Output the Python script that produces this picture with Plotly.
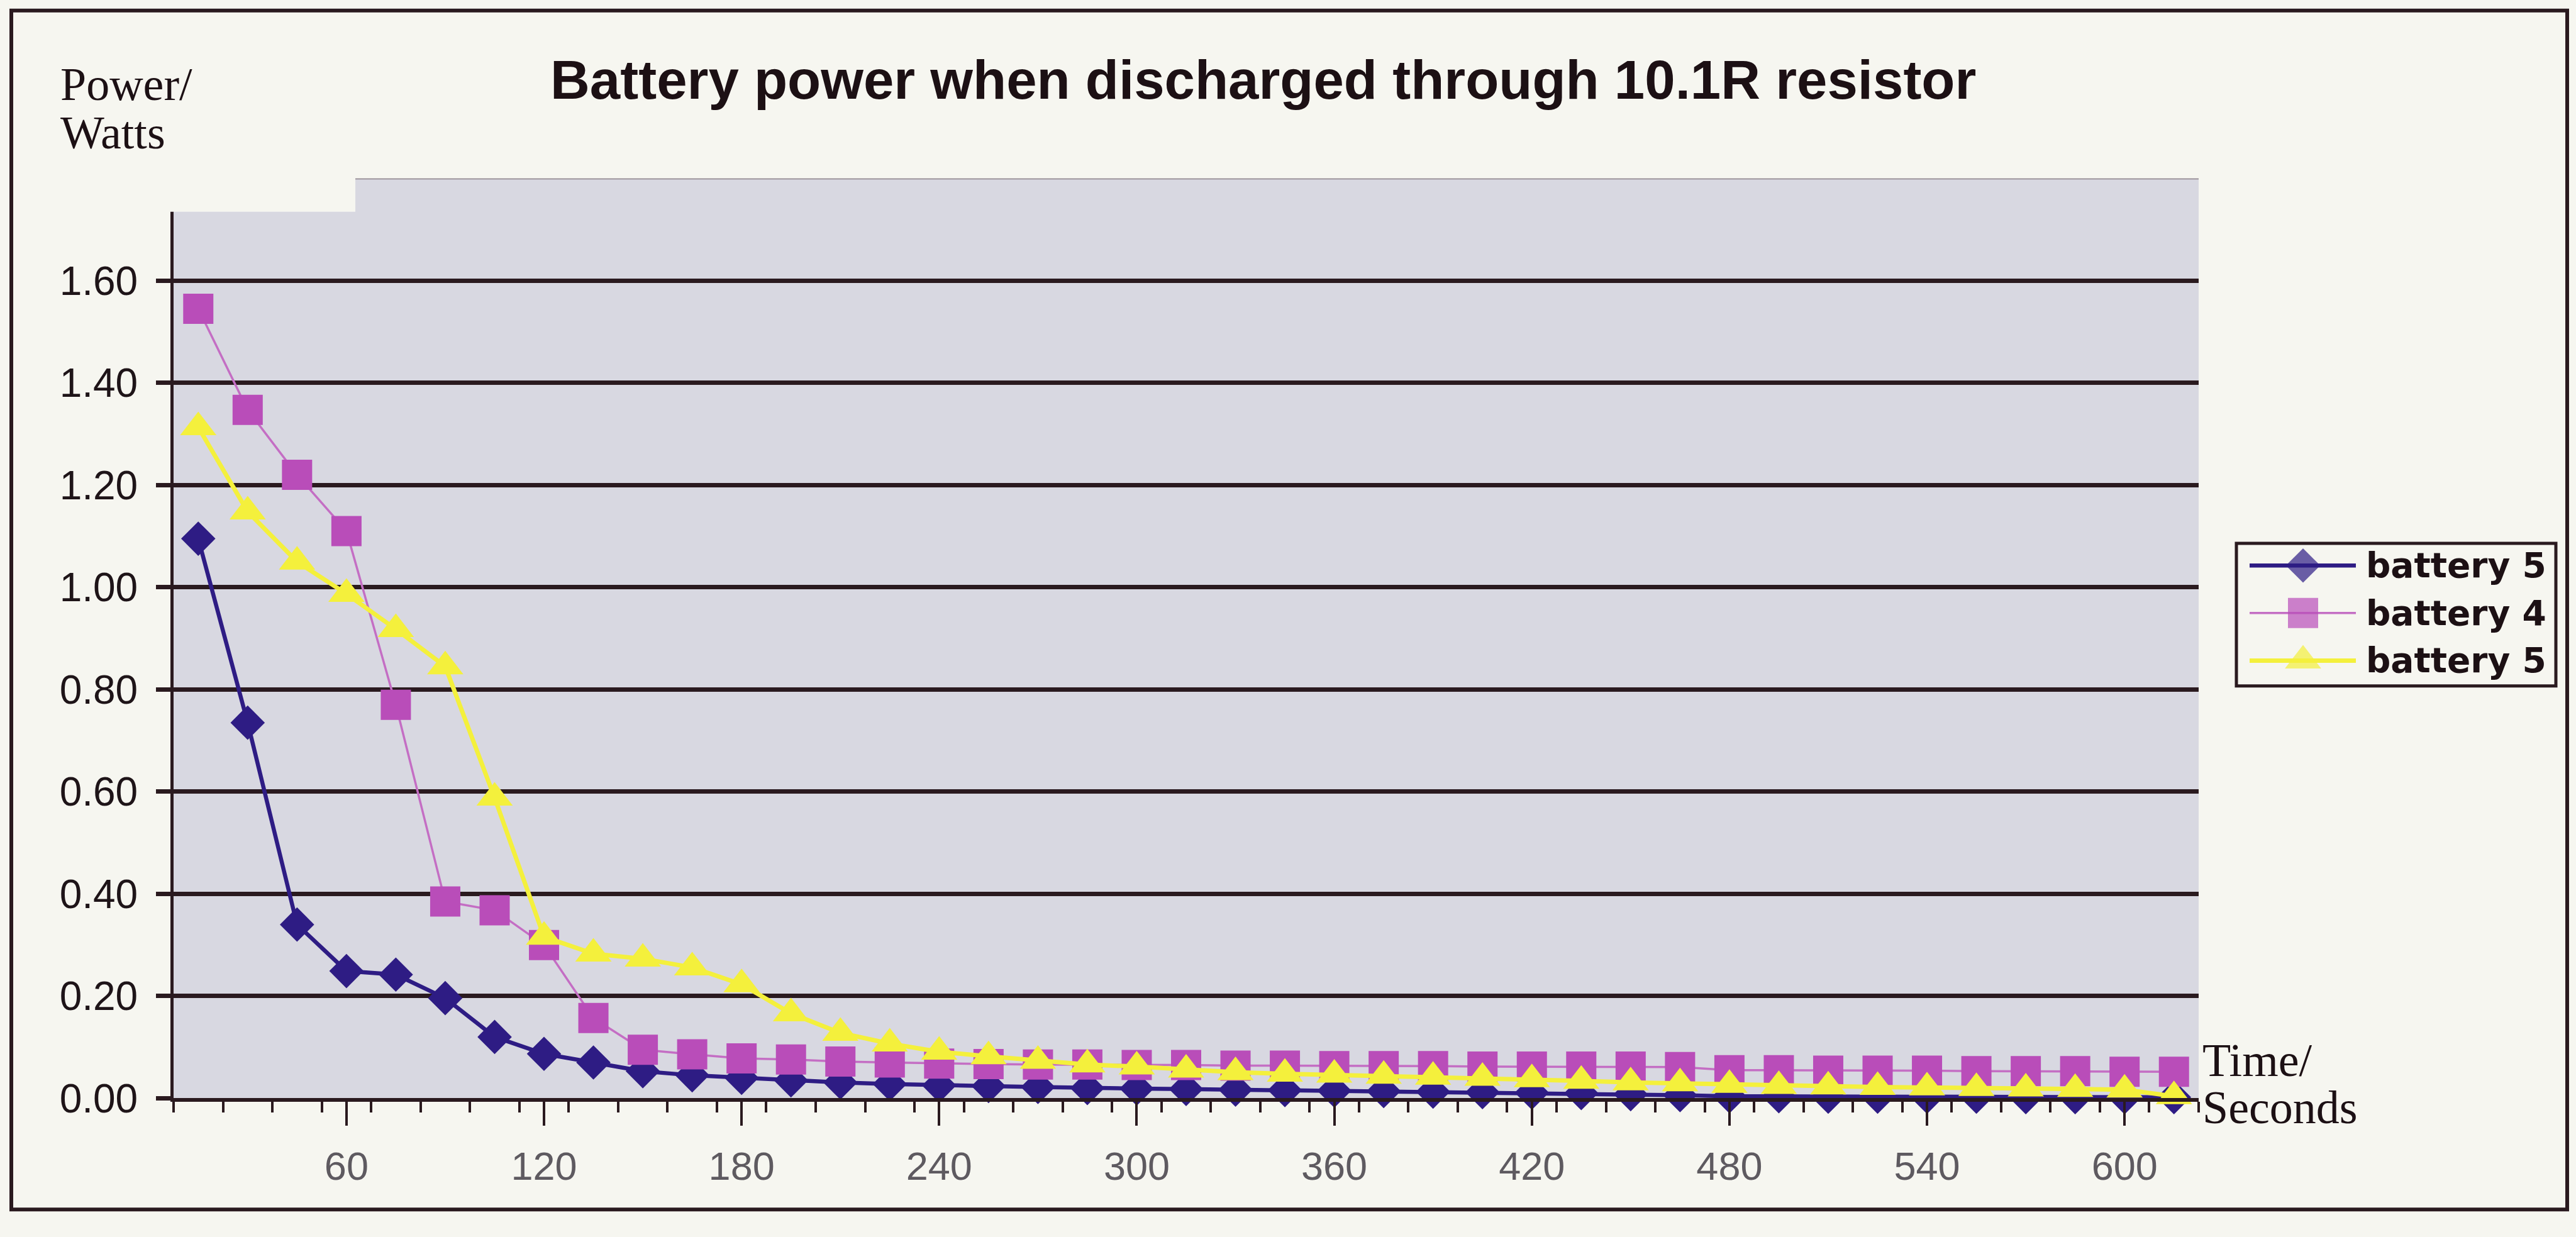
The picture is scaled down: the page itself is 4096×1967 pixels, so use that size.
import plotly.graph_objects as go

# ---------------------------------------------------------------- data
time_s = [15, 30, 45, 60, 75, 90, 105, 120, 135, 150,
          165, 180, 195, 210, 225, 240, 255, 270, 285, 300,
          315, 330, 345, 360, 375, 390, 405, 420, 435, 450,
          465, 480, 495, 510, 525, 540, 555, 570, 585, 600, 615]

battery5_run1 = [1.095, 0.735, 0.340, 0.249, 0.242, 0.196, 0.120, 0.087, 0.070, 0.053,
                 0.045, 0.040, 0.035, 0.031, 0.028, 0.025, 0.024, 0.022, 0.020, 0.019,
                 0.018, 0.017, 0.016, 0.015, 0.014, 0.013, 0.012, 0.011, 0.010, 0.008,
                 0.006, 0.004, 0.004, 0.003, 0.003, 0.003, 0.003, 0.002, 0.002, 0.002, 0.002]

battery4 = [1.545, 1.347, 1.220, 1.110, 0.770, 0.385, 0.368, 0.300, 0.157, 0.095,
            0.086, 0.078, 0.076, 0.072, 0.070, 0.068, 0.067, 0.066, 0.066, 0.065,
            0.065, 0.064, 0.064, 0.063, 0.063, 0.063, 0.062, 0.062, 0.062, 0.062,
            0.061, 0.055, 0.055, 0.054, 0.054, 0.054, 0.053, 0.053, 0.053, 0.052, 0.052]

battery5_run2 = [1.313, 1.148, 1.050, 0.987, 0.918, 0.845, 0.588, 0.316, 0.283, 0.273,
                 0.256, 0.223, 0.166, 0.128, 0.107, 0.091, 0.082, 0.073, 0.066, 0.062,
                 0.056, 0.051, 0.048, 0.046, 0.044, 0.042, 0.040, 0.037, 0.034, 0.031,
                 0.029, 0.026, 0.024, 0.023, 0.022, 0.021, 0.020, 0.019, 0.018, 0.017, 0.004]

series_names = ["battery 5", "battery 4", "battery 5"]
x_tick_vals = [60, 120, 180, 240, 300, 360, 420, 480, 540, 600]
y_tick_vals = [0.0, 0.2, 0.4, 0.6, 0.8, 1.0, 1.2, 1.4, 1.6]
y_max = 1.8

# ---------------------------------------------------------------- styling
W, H = 4096, 1967
PAPER = "#f6f6f0"
PLOT_BG = "#d8d8e1"
INK = "#2a1a1f"
NAVY = "#2e1c84"
MAGENTA_M = "#b94db9"
MAGENTA_L = "#c46ec4"
YELLOW = "#f4f03c"

# plot area in pixels
PL, PR, PT, PB = 276, 3496, 289, 1779


def fx(px):
    return px / W


def fy(px):
    return 1 - px / H


styles = [
    dict(line=dict(color=NAVY, width=6.5),
         marker=dict(symbol="diamond", size=42, color=NAVY, line=dict(width=0))),
    dict(line=dict(color=MAGENTA_L, width=3.5),
         marker=dict(symbol="square", size=48, color=MAGENTA_M, line=dict(width=0))),
    dict(line=dict(color=YELLOW, width=7),
         marker=dict(symbol="triangle-up", size=50, color=YELLOW, line=dict(width=0))),
]
series_values = [battery5_run1, battery4, battery5_run2]

fig = go.Figure()

for name, vals, st in zip(series_names, series_values, styles):
    fig.add_trace(go.Scatter(
        x=time_s, y=vals, name=name, mode="lines+markers",
        line=st["line"], marker=st["marker"],
        cliponaxis=False, showlegend=False,
        xaxis="x", yaxis="y",
    ))

# legend drawn as a small keyed panel on its own axes
LEG_L, LEG_R, LEG_T, LEG_B = 3556, 4064, 880, 1111
row_px = [916, 993, 1070]
key_x0, key_xm, key_x1 = 3577, 3662, 3746
for name, st, ry in zip(series_names, styles, row_px):
    yv = (LEG_B - ry) / (LEG_B - LEG_T)
    xs = [(p - LEG_L) / (LEG_R - LEG_L) for p in (key_x0, key_xm, key_x1)]
    mk = dict(st["marker"])
    mk["size"] = [0, mk["size"], 0]
    fig.add_trace(go.Scatter(
        x=xs, y=[yv] * 3, mode="lines+markers",
        line=st["line"], marker=mk, showlegend=False, hoverinfo="skip",
        xaxis="x2", yaxis="y2", cliponaxis=False,
    ))

fig.update_layout(
    width=W, height=H,
    margin=dict(l=0, r=0, t=0, b=0),
    paper_bgcolor=PAPER,
    plot_bgcolor=PLOT_BG,
    showlegend=False,
    xaxis=dict(
        domain=[fx(PL), fx(PR)],
        range=[7.5, 622.5],
        tickmode="array", tickvals=x_tick_vals,
        ticks="outside", ticklen=38, tickwidth=4, tickcolor=INK,
        minor=dict(tick0=7.5, dtick=15, ticks="outside", ticklen=17,
                   tickwidth=4, tickcolor=INK, showgrid=False),
        showgrid=False, zeroline=False,
        showline=True, linecolor=INK, linewidth=6,
        tickfont=dict(family="Liberation Sans, Arial", size=63, color="#5e5a60"),
        ticklabelstandoff=10,
        anchor="y",
    ),
    yaxis=dict(
        domain=[fy(PB), fy(PT)],
        range=[0, y_max],
        tickmode="array", tickvals=y_tick_vals, tickformat=".2f",
        ticks="outside", ticklen=23, tickwidth=7, tickcolor=INK,
        showgrid=True, gridcolor=INK, gridwidth=7,
        zeroline=False,
        showline=True, linecolor=INK, linewidth=5,
        tickfont=dict(family="Liberation Sans, Arial", size=64, color="#1e1418"),
        ticklabelstandoff=16,
        anchor="x",
    ),
    xaxis2=dict(domain=[fx(LEG_L), fx(LEG_R)], range=[0, 1], visible=False,
                anchor="y2", fixedrange=True),
    yaxis2=dict(domain=[fy(LEG_B), fy(LEG_T)], range=[0, 1], visible=False,
                anchor="x2", fixedrange=True),
)

shapes = [
    # outer frame of the chart
    dict(type="rect", xref="paper", yref="paper",
         x0=fx(18), x1=fx(4082), y0=fy(1959), y1=fy(17),
         line=dict(color=INK, width=6), fillcolor="rgba(0,0,0,0)", layer="above"),
    # legend box
    dict(type="rect", xref="paper", yref="paper",
         x0=fx(LEG_L), x1=fx(LEG_R), y0=fy(LEG_B), y1=fy(LEG_T),
         line=dict(color=INK, width=5), fillcolor=PAPER, layer="below"),
    # axis-title panel overlapping the top-left corner of the plot area
    dict(type="rect", xref="paper", yref="paper",
         x0=fx(262), x1=fx(565), y0=fy(343), y1=fy(280),
         line=dict(width=0), fillcolor=PAPER, layer="above"),
    # thin border along the top of the plot area
    dict(type="line", xref="paper", yref="y",
         x0=fx(565), x1=fx(PR), y0=y_max, y1=y_max,
         line=dict(color="#8c8088", width=3), layer="above"),
]
fig.update_layout(shapes=shapes)

serif = "Liberation Serif, Times New Roman, serif"
ann = [
    dict(text="<b>Battery power when discharged through 10.1R resistor</b>",
         x=fx(2008), y=fy(129), xanchor="center", yanchor="middle",
         font=dict(family="Liberation Sans, Arial", size=87, color="#1c1014")),
    dict(text="Power/", x=fx(94), y=fy(136), xanchor="left", yanchor="middle",
         font=dict(family=serif, size=74, color="#1c1014")),
    dict(text="Watts", x=fx(94), y=fy(215), xanchor="left", yanchor="middle",
         font=dict(family=serif, size=74, color="#1c1014")),
    dict(text="Time/", x=fx(3500), y=fy(1717), xanchor="left", yanchor="middle",
         font=dict(family=serif, size=74, color="#1c1014")),
    dict(text="Seconds", x=fx(3500), y=fy(1794), xanchor="left", yanchor="middle",
         font=dict(family=serif, size=74, color="#1c1014")),
]
for name, ry in zip(series_names, row_px):
    ann.append(dict(text="<b>" + name + "</b>", x=fx(3760), y=fy(ry),
                    xanchor="left", yanchor="middle",
                    font=dict(family="DejaVu Sans", size=55, color="#1c1014")))
for a in ann:
    a.update(xref="paper", yref="paper", showarrow=False)
fig.update_layout(annotations=ann)

fig.write_html("out.html")
